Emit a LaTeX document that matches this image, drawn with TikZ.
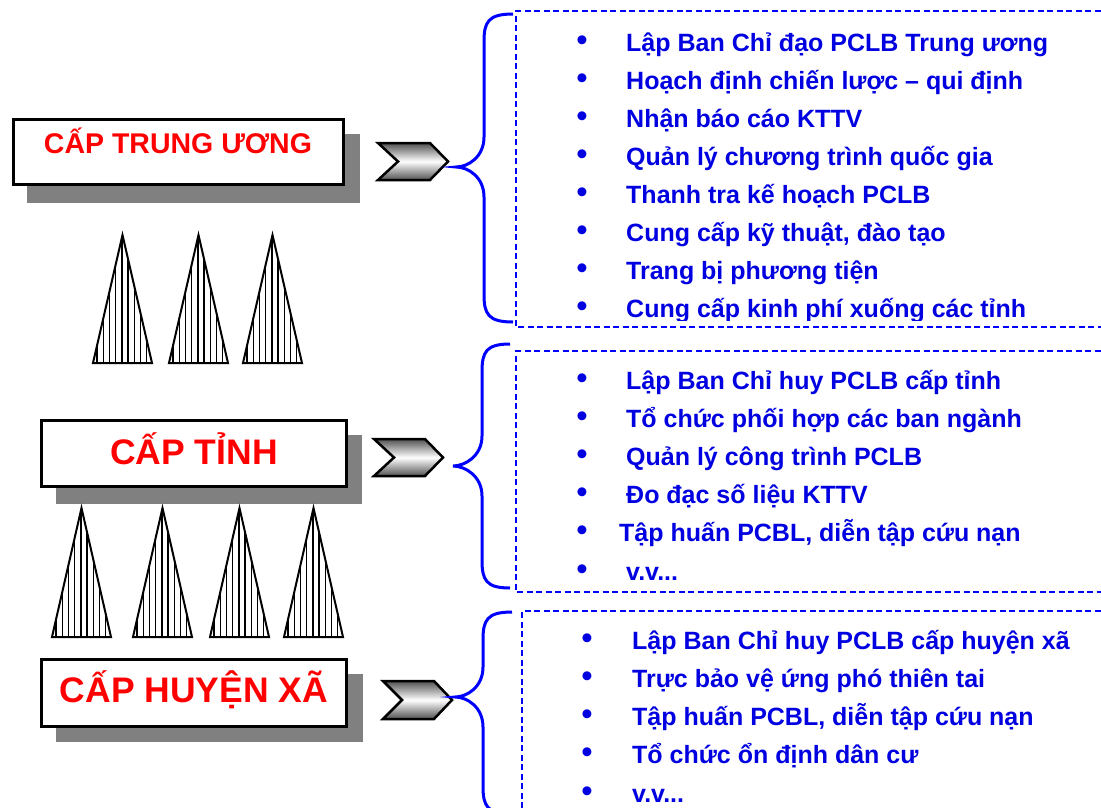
\documentclass[tikz,border=0pt]{standalone}
\usepackage{fontspec}
\setmainfont{Liberation Sans}
\definecolor{txtblue}{RGB}{0,0,225}
\definecolor{lineblue}{RGB}{0,0,255}
\definecolor{lvlred}{RGB}{255,0,0}
\newcommand\vvetc{v.v...}
\tikzset{
 lvlbox/.style={draw=black, line width=3pt, fill=white, inner sep=0pt},
 shadowst/.style={fill=black!50},
 lvltext/.style={text=lvlred, anchor=base, inner sep=0pt},
 itemst/.style={text=txtblue, font=\bfseries\fontsize{25}{28}\selectfont, anchor=base west, inner sep=0pt},
 bulst/.style={text=txtblue, font=\bfseries\fontsize{31}{32}\selectfont, anchor=base, inner sep=0pt},
 chev/.style={draw=black, line width=2.5pt, line join=miter, top color=black!68, bottom color=black!68, middle color=white},
 bracest/.style={draw=lineblue, line width=3pt},
 dashst/.style={draw=lineblue, line width=1.8pt, dash pattern=on 6pt off 3.5pt},
 trist/.style={draw=black, line width=2pt, line join=miter},
 hatchst/.style={draw=black, line width=1.4pt}
}
\newcommand\drawbrace[6]{% #1 xend, #2 xvert, #3 xtip, #4 ytop, #5 ytip, #6 ybot
 \draw[bracest] (#1,#4) .. controls ({#2+4},#4) and (#2,{#4+8}) .. (#2,{#4+28})
   -- (#2,{#5-30}) .. controls (#2,{#5-10}) and ({#3+12},#5) .. (#3,#5)
   .. controls ({#3+12},#5) and (#2,{#5+10}) .. (#2,{#5+30})
   -- (#2,{#6-28}) .. controls (#2,{#6-8}) and ({#2+4},#6) .. (#1,#6);}
\begin{document}
\begin{tikzpicture}[x=1pt,y=-1pt]
\useasboundingbox (0,0) rectangle (1101,807);
\fill[white] (0,0) rectangle (1101,807);

% level boxes with shadows
\fill[shadowst] (27,134) rectangle (360,203);
\node[lvlbox, minimum width=330pt, minimum height=65pt] (b1) at (178.5,152) {};
\node[lvltext, font=\bfseries\fontsize{28.5}{30}\selectfont] (t1) at (178,153) {CẤP TRUNG ƯƠNG};

\fill[shadowst] (56,435) rectangle (362,504);
\node[lvlbox, minimum width=305pt, minimum height=66pt] (b2) at (194,453.5) {};
\node[lvltext, font=\bfseries\fontsize{35.5}{38}\selectfont] (t2) at (194,464) {CẤP TỈNH};

\fill[shadowst] (56,674) rectangle (363,742);
\node[lvlbox, minimum width=305pt, minimum height=67pt] (b3) at (194,693) {};
\node[lvltext, font=\bfseries\fontsize{35.5}{38}\selectfont] (t3) at (194,702) {CẤP HUYỆN XÃ};

% hatched triangles
\foreach \l/\r/\t/\b in {93/152/235/363, 169/228/235/363, 243/302/235/363,
  52/111/508/637, 133/192/508/637, 210/269/508/637, 284/343/508/637}{
 \begin{scope}
  \clip (\l,\b) -- ({(\l+\r)/2},\t) -- (\r,\b) -- cycle;
  \foreach \k in {0,1,2,3,4,5,6,7,8,9} \draw[hatchst] ({\l+4+6.2*\k},\t) -- ({\l+4+6.2*\k},\b);
 \end{scope}
 \draw[trist] (\l,\b) -- ({(\l+\r)/2},\t) -- (\r,\b) -- cycle;
}

% chevrons
\draw[chev] (378,143) -- (430,143) -- (448,161.5) -- (430,180) -- (378,180) -- (398,161.5) -- cycle;
\draw[chev] (374,439) -- (425,439) -- (443,457.5) -- (425,476) -- (374,476) -- (394,457.5) -- cycle;
\draw[chev] (383,681) -- (434,681) -- (452,700) -- (434,719) -- (383,719) -- (402,700) -- cycle;

% braces
\drawbrace{513}{484}{456}{14}{167}{322}
\drawbrace{510}{482}{453}{344}{466}{588}
\drawbrace{512}{483}{455}{612}{697}{814}

% dashed frames
\draw[dashst] (1110,11) -- (516,11) -- (516,327) -- (1110,327);
\draw[dashst] (1110,351) -- (516,351) -- (516,592) -- (1110,592);
\draw[dashst] (1110,611) -- (522,611) -- (522,820);

% list 1
\begin{scope}
\clip (516,0) rectangle (1101,320);
\foreach [count=\i] \t in {Lập Ban Chỉ đạo PCLB Trung ương, Hoạch định chiến lược – qui định,
  Nhận báo cáo KTTV, Quản lý chương trình quốc gia, Thanh tra kế hoạch PCLB,
  {Cung cấp kỹ thuật, đào tạo}, Trang bị phương tiện, Cung cấp kinh phí xuống các tỉnh}{
 \node[bulst] (ba\i) at (582,{50+38.1*(\i-1)}) {•};
 \node[itemst] (ia\i) at (626,{51+38.1*(\i-1)}) {\t};
}
\end{scope}

% list 2
\foreach [count=\i] \x/\t in {626/Lập Ban Chỉ huy PCLB cấp tỉnh, 626/Tổ chức phối hợp các ban ngành,
  626/Quản lý công trình PCLB, 626/Đo đạc số liệu KTTV, {619/Tập huấn PCBL, diễn tập cứu nạn}, 626/\vvetc}{
 \node[bulst] (bb\i) at (582,{388+38.2*(\i-1)}) {•};
 \node[itemst] (ib\i) at (\x,{389+38.2*(\i-1)}) {\t};
}

% list 3
\foreach [count=\i] \t in {Lập Ban Chỉ huy PCLB cấp huyện xã, Trực bảo vệ ứng phó thiên tai,
  {Tập huấn PCBL, diễn tập cứu nạn}, Tổ chức ổn định dân cư, \vvetc}{
 \node[bulst] (bc\i) at (587,{648+38.3*(\i-1)}) {•};
 \node[itemst] (ic\i) at (632,{649+38.3*(\i-1)}) {\t};
}
\end{tikzpicture}
\end{document}
